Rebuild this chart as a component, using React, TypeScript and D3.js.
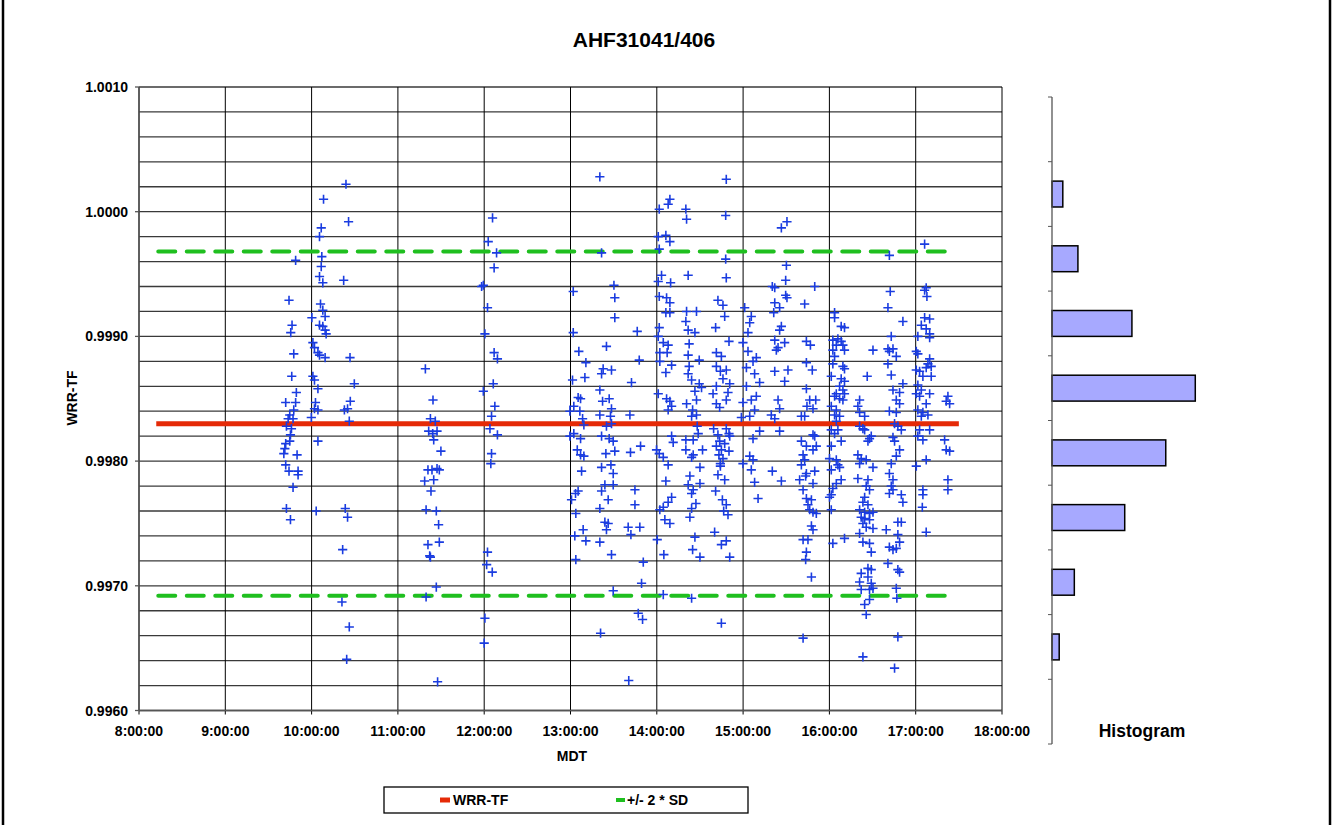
import React, { useEffect, useRef } from 'react';
import * as d3 from 'd3';

// time in minutes after midnight (MDT), value WRR-TF
const morning1: [number, number][] = [
  [588.9,0.99961],[584.3,0.99929],[586.4,0.99909],[585.5,0.99903],[587.6,0.99886],[586.2,0.99868],[589.4,0.99855],[582.0,0.99847],[588.9,0.99847],[587.6,0.99841],[584.8,0.99837],[583.7,0.99834],[587.1,0.99834],[582.5,0.99828],[586.0,0.99826],[585.3,0.99821],[584.8,0.99816],[582.0,0.99814],[581.4,0.99810],[580.7,0.99806],[589.9,0.99805],[582.0,0.99797],[584.3,0.99792],[590.6,0.99792],[590.6,0.99789],[587.1,0.99779],[582.5,0.99762],[585.3,0.99753],
  [608.3,1.00010],[606.7,0.99987],[605.5,0.99980],[607.1,0.99964],[606.7,0.99956],[605.5,0.99948],[607.8,0.99943],[606.2,0.99926],[607.8,0.99921],[609.4,0.99916],[600.2,0.99915],[605.5,0.99909],[607.8,0.99908],[609.4,0.99905],[610.1,0.99902],[600.9,0.99895],[602.0,0.99891],[604.4,0.99887],[605.5,0.99885],[609.4,0.99883],[600.9,0.99868],[602.0,0.99865],[604.4,0.99858],[602.7,0.99847],[602.0,0.99842],[604.4,0.99841],[599.8,0.99835],[604.4,0.99816],[603.2,0.99760],
  [623.9,1.00022],[625.7,0.99992],[622.3,0.99945],[626.7,0.99883],[629.7,0.99862],[626.9,0.99848],[625.0,0.99842],[622.8,0.99841],[626.2,0.99832],[623.4,0.99762],[625.0,0.99755],[621.6,0.99729],[621.1,0.99687],[626.2,0.99667],[624.4,0.99641],
];

const morning2: [number, number][] = [
  [679.1,0.99874],[684.4,0.99849],[682.6,0.99834],[686.0,0.99832],[681.4,0.99824],[684.2,0.99822],[687.2,0.99824],[684.9,0.99817],[689.9,0.99808],[680.9,0.99793],[683.7,0.99793],[687.2,0.99794],[688.8,0.99793],[678.6,0.99784],[684.9,0.99785],[683.0,0.99776],[679.6,0.99761],[686.7,0.99760],[688.3,0.99749],[680.9,0.99733],[688.8,0.99735],[682.1,0.99724],[682.6,0.99723],[686.7,0.99699],[679.6,0.99691],[687.6,0.99623],
];

const noon: [number, number][] = [
  [725.8,0.99995],[722.8,0.99976],[728.6,0.99967],[726.9,0.99955],[719.4,0.99941],[718.2,0.99940],[722.3,0.99923],[720.5,0.99902],[726.9,0.99887],[729.2,0.99882],[726.3,0.99862],[719.4,0.99856],[727.4,0.99844],[725.1,0.99836],[724.0,0.99826],[729.2,0.99821],[725.1,0.99806],[724.6,0.99798],[722.3,0.99727],[721.7,0.99717],[725.6,0.99711],[720.5,0.99674],[720.0,0.99654],
];

const afternoon1: [number, number][] = [
  [800.4,1.00028],[849.1,1.00010],[847.9,1.00006],[841.7,1.00002],[860.2,1.00002],[860.7,0.99994],[841.0,0.99980],[846.3,0.99981],[849.1,0.99976],[841.7,0.99970],[801.6,0.99967],[861.8,0.99949],[843.3,0.99949],[841.0,0.99944],[849.6,0.99943],[781.9,0.99936],[810.2,0.99941],[810.8,0.99931],[841.7,0.99932],[846.8,0.99931],[849.1,0.99927],[810.8,0.99915],[846.3,0.99919],[849.1,0.99919],[860.7,0.99920],[867.6,0.99920],[860.2,0.99912],[861.8,0.99905],[866.5,0.99903],[781.9,0.99903],[826.4,0.99904],[841.7,0.99907],[841.0,0.99900],[844.5,0.99895],[847.9,0.99893],[805.0,0.99892],[785.8,0.99888],[842.1,0.99887],[847.2,0.99887],[862.5,0.99894],[861.8,0.99885],[790.7,0.99879],[827.8,0.99881],[869.5,0.99881],[842.1,0.99880],[850.3,0.99877],[802.7,0.99874],[808.5,0.99873],[801.6,0.99870],[846.3,0.99871],[862.5,0.99876],[861.8,0.99870],[781.4,0.99865],[790.0,0.99867],[822.4,0.99863],[864.2,0.99865],[869.5,0.99862],[871.1,0.99859],[800.4,0.99857],[841.0,0.99854],[846.8,0.99850],[849.1,0.99848],[866.5,0.99856],[867.6,0.99849],[785.3,0.99851],[787.0,0.99850],[802.3,0.99848],[806.9,0.99850],[860.7,0.99846],[850.3,0.99844],[847.9,0.99841],[782.3,0.99844],[779.6,0.99840],[786.5,0.99840],[800.4,0.99837],[808.5,0.99842],[807.8,0.99836],[821.3,0.99837],[864.9,0.99841],[867.6,0.99837],[864.2,0.99836],[788.4,0.99834],[789.3,0.99829],[805.0,0.99828],[808.5,0.99830],[868.1,0.99828],[868.8,0.99822],[782.3,0.99822],[779.6,0.99820],[801.6,0.99820],[806.9,0.99818],[809.7,0.99816],[850.3,0.99820],[851.4,0.99815],[860.2,0.99817],[865.3,0.99817],[787.0,0.99818],[839.8,0.99809],[841.7,0.99806],[784.7,0.99809],[787.0,0.99805],[789.3,0.99804],[804.6,0.99806],[810.8,0.99808],[821.7,0.99807],[828.7,0.99812],[860.2,0.99809],[865.3,0.99805],[871.8,0.99809],[864.2,0.99803],[844.5,0.99803],[847.9,0.99797],[801.6,0.99795],[808.1,0.99797],[787.7,0.99792],[809.7,0.99790],[870.0,0.99795],[863.0,0.99788],[846.3,0.99784],[803.9,0.99781],[809.7,0.99781],[801.6,0.99776],[824.8,0.99777],[861.8,0.99781],[865.3,0.99777],[870.0,0.99782],[864.2,0.99774],[785.3,0.99776],[780.7,0.99769],[783.5,0.99774],[806.2,0.99769],[850.3,0.99771],[847.9,0.99767],[844.5,0.99763],[842.1,0.99761],[800.4,0.99762],[824.8,0.99765],[783.7,0.99758],[867.2,0.99766],[864.2,0.99762],[863.0,0.99755],[845.6,0.99753],[849.1,0.99750],[803.9,0.99751],[806.2,0.99750],[805.0,0.99745],[820.1,0.99747],[828.2,0.99747],[788.8,0.99745],[783.0,0.99740],[790.7,0.99736],[822.0,0.99741],[800.4,0.99735],[840.3,0.99737],[866.5,0.99739],[864.9,0.99729],[808.5,0.99725],[844.9,0.99725],[870.0,0.99723],[783.7,0.99721],[830.6,0.99719],[829.4,0.99702],[809.7,0.99696],[844.5,0.99693],[864.2,0.99690],[827.1,0.99678],[830.1,0.99673],[800.9,0.99662],[820.5,0.99624],
];

const afternoon2: [number, number][] = [
  [888.3,1.00026],[887.9,0.99997],[930.5,0.99992],[926.6,0.99987],[887.9,0.99962],[888.3,0.99947],[930.1,0.99957],[929.6,0.99945],[949.8,0.99940],[920.3,0.99940],[922.0,0.99939],[929.6,0.99933],[930.5,0.99931],[942.8,0.99926],[882.5,0.99929],[886.0,0.99925],[887.2,0.99916],[880.9,0.99907],[901.1,0.99923],[905.7,0.99916],[904.6,0.99911],[903.4,0.99903],[922.0,0.99927],[921.3,0.99919],[925.4,0.99923],[926.6,0.99908],[925.4,0.99905],[890.2,0.99896],[899.9,0.99895],[922.0,0.99897],[928.9,0.99895],[944.0,0.99896],[946.8,0.99893],[881.4,0.99887],[884.9,0.99884],[903.4,0.99888],[923.1,0.99889],[924.3,0.99891],[909.2,0.99883],[906.9,0.99880],[902.3,0.99875],[881.4,0.99876],[884.2,0.99872],[888.3,0.99873],[922.0,0.99872],[931.2,0.99873],[944.0,0.99879],[948.1,0.99873],[928.9,0.99864],[890.7,0.99862],[881.4,0.99860],[886.0,0.99866],[908.0,0.99870],[911.5,0.99863],[902.3,0.99860],[909.2,0.99852],[944.0,0.99858],[879.1,0.99854],[889.5,0.99855],[888.3,0.99849],[881.4,0.99846],[883.7,0.99843],[899.9,0.99847],[905.7,0.99849],[908.0,0.99841],[924.3,0.99849],[925.4,0.99842],[946.3,0.99849],[950.5,0.99849],[948.6,0.99842],[944.4,0.99844],[942.8,0.99836],[940.5,0.99836],[919.6,0.99837],[922.0,0.99834],[898.8,0.99835],[904.6,0.99836],[879.5,0.99826],[888.3,0.99826],[890.2,0.99822],[890.7,0.99820],[882.5,0.99821],[883.7,0.99816],[881.4,0.99812],[887.2,0.99814],[884.9,0.99809],[890.2,0.99808],[911.5,0.99824],[925.4,0.99824],[906.9,0.99818],[940.5,0.99816],[948.6,0.99821],[949.8,0.99820],[944.0,0.99812],[948.6,0.99809],[950.9,0.99812],[904.6,0.99804],[906.9,0.99801],[899.9,0.99798],[883.2,0.99805],[886.0,0.99802],[884.2,0.99796],[882.5,0.99789],[887.2,0.99785],[884.2,0.99798],[905.7,0.99793],[920.3,0.99792],[926.6,0.99784],[908.0,0.99783],[941.7,0.99805],[942.8,0.99801],[940.5,0.99797],[944.0,0.99790],[949.8,0.99792],[939.3,0.99785],[943.5,0.99788],[948.6,0.99782],[910.4,0.99770],[880.9,0.99776],[885.6,0.99769],[888.3,0.99765],[889.5,0.99757],[886.5,0.99760],[941.7,0.99777],[944.0,0.99770],[947.5,0.99769],[945.1,0.99765],[948.6,0.99759],[950.9,0.99758],[946.3,0.99761],[947.5,0.99748],[948.6,0.99745],[880.2,0.99743],[888.3,0.99736],[884.9,0.99733],[890.7,0.99723],[941.7,0.99737],[945.1,0.99737],[944.0,0.99727],[943.5,0.99721],[947.5,0.99707],[884.9,0.99670],[941.7,0.99658],
];

const afternoon3: [number, number][] = [
  [963.6,0.99919],[963.6,0.99915],[968.2,0.99908],[970.5,0.99907],[962.4,0.99897],[965.9,0.99898],[968.2,0.99896],[964.8,0.99893],[969.4,0.99893],[962.4,0.99889],[970.5,0.99889],[963.6,0.99884],[962.4,0.99878],[969.4,0.99876],[970.5,0.99874],[961.3,0.99868],[968.2,0.99866],[970.5,0.99864],[967.1,0.99860],[969.4,0.99857],[964.8,0.99854],[970.5,0.99854],[963.6,0.99852],[967.1,0.99850],[969.4,0.99849],[961.3,0.99844],[964.8,0.99841],[963.6,0.99837],[967.1,0.99836],[964.8,0.99832],[961.3,0.99825],[965.9,0.99825],[963.6,0.99822],[968.2,0.99816],[961.3,0.99812],[960.1,0.99802],[964.8,0.99801],[965.9,0.99797],[967.1,0.99795],[961.3,0.99793],[968.2,0.99785],[964.8,0.99782],[962.4,0.99778],[961.3,0.99773],[960.1,0.99771],[961.3,0.99761],[962.4,0.99734],[970.5,0.99738],
  [981.0,0.99849],[979.8,0.99844],[981.0,0.99839],[984.5,0.99836],[981.0,0.99828],[984.5,0.99825],[983.3,0.99826],[989.1,0.99820],[987.9,0.99818],[986.8,0.99816],[979.8,0.99805],[982.1,0.99802],[985.6,0.99801],[981.0,0.99798],[990.3,0.99795],[979.8,0.99786],[986.8,0.99785],[985.6,0.99780],[987.9,0.99777],[984.5,0.99771],[983.3,0.99767],[986.8,0.99765],[981.0,0.99761],[984.5,0.99759],[987.9,0.99758],[990.3,0.99759],[982.1,0.99755],[984.5,0.99754],[987.9,0.99753],[983.3,0.99750],[990.3,0.99746],[981.0,0.99742],[985.6,0.99747],[983.3,0.99735],[987.9,0.99734],[989.1,0.99727],[986.8,0.99714],[989.1,0.99713],[982.1,0.99710],[986.8,0.99707],[981.0,0.99703],[989.1,0.99702],[982.1,0.99697],[987.9,0.99697],[990.3,0.99698],[987.9,0.99689],[984.5,0.99685],[985.6,0.99677],[983.3,0.99643],[990.3,0.99889],[986.3,0.99868],
  [1001.7,0.99965],[1002.3,0.99936],[1000.7,0.99923],[1011.1,0.99912],[1003.0,0.99900],[1000.7,0.99890],[1001.7,0.99888],[1004.2,0.99890],[1006.5,0.99884],[1000.7,0.99878],[1003.0,0.99869],[1011.1,0.99862],[1004.2,0.99857],[1008.8,0.99855],[1006.5,0.99849],[1008.8,0.99846],[1001.7,0.99840],[1006.5,0.99839],[1005.3,0.99830],[1007.6,0.99828],[1010.0,0.99825],[1004.2,0.99819],[1005.3,0.99816],[1008.8,0.99809],[1006.5,0.99804],[1003.0,0.99798],[1001.7,0.99790],[1004.2,0.99785],[1003.0,0.99780],[1004.2,0.99777],[1010.0,0.99773],[1001.7,0.99774],[1011.1,0.99767],[1007.6,0.99751],[1010.0,0.99751],[999.5,0.99745],[1007.6,0.99741],[1008.8,0.99735],[1001.7,0.99731],[1006.5,0.99730],[1004.2,0.99729],[1000.7,0.99718],[1007.6,0.99713],[1008.8,0.99711],[1006.5,0.99698],[1006.9,0.99690],[1007.6,0.99659],[1005.3,0.99634],
  [1026.2,0.99974],[1027.3,0.99939],[1026.2,0.99937],[1027.8,0.99932],[1026.2,0.99915],[1029.7,0.99914],[1023.9,0.99909],[1027.3,0.99906],[1029.7,0.99902],[1029.7,0.99899],[1021.5,0.99900],[1020.4,0.99888],[1021.5,0.99886],[1029.7,0.99882],[1028.5,0.99878],[1030.8,0.99876],[1027.3,0.99875],[1020.4,0.99873],[1022.7,0.99872],[1025.0,0.99868],[1030.8,0.99868],[1021.5,0.99861],[1023.9,0.99857],[1029.7,0.99854],[1020.4,0.99854],[1022.7,0.99852],[1027.3,0.99846],[1021.5,0.99841],[1025.0,0.99839],[1028.5,0.99837],[1023.9,0.99836],[1029.7,0.99825],[1022.7,0.99825],[1021.5,0.99820],[1025.0,0.99817],[1027.3,0.99801],[1020.4,0.99796],[1025.0,0.99777],[1025.0,0.99773],[1024.6,0.99763],[1027.3,0.99743],
  [1042.4,0.99852],[1041.2,0.99848],[1043.6,0.99846],[1040.1,0.99817],[1041.2,0.99809],[1043.6,0.99808],[1042.4,0.99785],[1042.4,0.99777],
];

const meanValue = 0.9983;
const upperLimit = 0.99968;
const lowerLimit = 0.99692;
const lineStart = 492; // 8:12
const lineEnd = 1050; // 17:30

const hourTicks = [8, 9, 10, 11, 12, 13, 14, 15, 16, 17, 18];
const yLabelTicks = [0.996, 0.997, 0.998, 0.999, 1.0, 1.001];
const histCounts = [0, 15, 36, 111, 199, 158, 101, 31, 10, 0];

const FONT = "'Liberation Sans', Arial, Helvetica, sans-serif";

export default function App() {
  const ref = useRef<SVGSVGElement>(null);
  useEffect(() => {
    const svg = d3.select(ref.current);
    svg.selectAll('*').remove();
    const x = d3.scaleLinear().domain([480, 1080]).range([139, 1002]);
    const y = d3.scaleLinear().domain([0.996, 1.001]).range([710.5, 87]);

    svg.append('rect').attr('x', 0).attr('y', 0).attr('width', 1333).attr('height', 825).attr('fill', '#fff');
    svg.append('rect').attr('x', 3).attr('y', -4).attr('width', 1327).attr('height', 833)
      .attr('fill', 'none').attr('stroke', '#000').attr('stroke-width', 2.5);

    // title
    svg.append('text').attr('x', 644).attr('y', 47).attr('text-anchor', 'middle')
      .attr('font-family', FONT).attr('font-weight', 'bold').attr('font-size', 21).text('AHF31041/406');

    const g = svg.append('g');
    const hGrid = d3.range(0, 26).map(i => 0.996 + i * 0.0002);
    g.selectAll('line.h').data(hGrid).enter().append('line')
      .attr('x1', x(480)).attr('x2', x(1080))
      .attr('y1', d => y(d)).attr('y2', d => y(d))
      .attr('stroke', '#3a3a3a').attr('stroke-width', 1.3);
    g.selectAll('line.v').data(hourTicks).enter().append('line')
      .attr('x1', d => x(d * 60)).attr('x2', d => x(d * 60))
      .attr('y1', y(1.001)).attr('y2', y(0.996) + 4)
      .attr('stroke', '#000').attr('stroke-width', 1);
    g.append('line').attr('x1', x(480)).attr('x2', x(480)).attr('y1', y(1.001)).attr('y2', y(0.996))
      .attr('stroke', '#555').attr('stroke-width', 1.5);
    g.append('line').attr('x1', x(480)).attr('x2', x(1080)).attr('y1', y(0.996)).attr('y2', y(0.996))
      .attr('stroke', '#555').attr('stroke-width', 1.5);
    g.selectAll('line.yt').data(yLabelTicks).enter().append('line')
      .attr('x1', x(480) - 4).attr('x2', x(480)).attr('y1', d => y(d)).attr('y2', d => y(d))
      .attr('stroke', '#555').attr('stroke-width', 1.3);
    g.selectAll('text.yl').data(yLabelTicks).enter().append('text')
      .attr('x', 128).attr('y', d => y(d) + 5).attr('text-anchor', 'end')
      .attr('font-family', FONT).attr('font-weight', 'bold').attr('font-size', 14)
      .text(d => d3.format('.4f')(d));
    g.selectAll('text.xl').data(hourTicks).enter().append('text')
      .attr('x', d => x(d * 60)).attr('y', 736).attr('text-anchor', 'middle')
      .attr('font-family', FONT).attr('font-weight', 'bold').attr('font-size', 14)
      .text(d => `${d}:00:00`);

    svg.append('text').attr('x', 572).attr('y', 761).attr('text-anchor', 'middle')
      .attr('font-family', FONT).attr('font-weight', 'bold').attr('font-size', 14).text('MDT');
    svg.append('text').attr('transform', `translate(77,398) rotate(-90)`).attr('text-anchor', 'middle')
      .attr('font-family', FONT).attr('font-weight', 'bold').attr('font-size', 14).text('WRR-TF');

    svg.append('line').attr('x1', x(lineStart)).attr('x2', x(lineEnd))
      .attr('y1', y(meanValue)).attr('y2', y(meanValue))
      .attr('stroke', '#E52A07').attr('stroke-width', 5);
    [upperLimit, lowerLimit].forEach(v => {
      svg.append('line').attr('x1', x(lineStart) + 2).attr('x2', x(lineEnd) - 4)
        .attr('y1', y(v)).attr('y2', y(v))
        .attr('stroke', '#1FBF1F').attr('stroke-width', 4)
        .attr('stroke-dasharray', '17 11.5').attr('stroke-linecap', 'round');
    });

    const all = [...morning1, ...morning2, ...noon, ...afternoon1, ...afternoon2, ...afternoon3];
    svg.append('g').selectAll('path').data(all).enter().append('path')
      .attr('transform', d => `translate(${x(d[0])},${y(d[1])})`)
      .attr('d', 'M-4.6,0H4.6M0,-4.6V4.6')
      .attr('stroke', '#1A3CE0').attr('stroke-width', 1.6).attr('fill', 'none');

    // histogram
    const yh = d3.scaleBand<number>().domain(d3.range(histCounts.length)).range([97, 744])
      .paddingInner(0.6).paddingOuter(0.3);
    const xh = d3.scaleLinear().domain([0, 250]).range([1052, 1232]);
    const hg = svg.append('g');
    histCounts.forEach((c, i) => {
      if (c <= 0) return;
      hg.append('rect').attr('x', xh(0)).attr('y', yh(i)!)
        .attr('width', xh(c) - xh(0)).attr('height', yh.bandwidth())
        .attr('fill', '#A7A9FF').attr('stroke', '#000').attr('stroke-width', 1.5);
    });
    hg.append('line').attr('x1', 1052).attr('x2', 1052).attr('y1', 97).attr('y2', 744)
      .attr('stroke', '#555').attr('stroke-width', 1.3);
    const step = yh.step();
    hg.selectAll('line.ht').data(d3.range(histCounts.length + 1)).enter().append('line')
      .attr('x1', 1048).attr('x2', 1052)
      .attr('y1', d => 97 + d * step).attr('y2', d => 97 + d * step)
      .attr('stroke', '#555').attr('stroke-width', 1);
    svg.append('text').attr('x', 1142).attr('y', 737).attr('text-anchor', 'middle')
      .attr('font-family', FONT).attr('font-weight', 'bold').attr('font-size', 17.5).text('Histogram');

    // legend
    const lg = svg.append('g');
    lg.append('rect').attr('x', 384).attr('y', 787).attr('width', 364).attr('height', 26)
      .attr('fill', '#fff').attr('stroke', '#000').attr('stroke-width', 1.3);
    lg.append('line').attr('x1', 440).attr('x2', 450).attr('y1', 800).attr('y2', 800)
      .attr('stroke', '#E52A07').attr('stroke-width', 5);
    lg.append('text').attr('x', 453).attr('y', 805).attr('font-family', FONT).attr('font-weight', 'bold')
      .attr('font-size', 14).text('WRR-TF');
    lg.append('line').attr('x1', 616).attr('x2', 625).attr('y1', 800).attr('y2', 800)
      .attr('stroke', '#1FBF1F').attr('stroke-width', 4);
    lg.append('text').attr('x', 627).attr('y', 805).attr('font-family', FONT).attr('font-weight', 'bold')
      .attr('font-size', 14).text('+/- 2 * SD');
  }, []);
  return (
    <svg ref={ref} width={1333} height={825} style={{ position: 'absolute', left: 0, top: 0 }} />
  );
}
